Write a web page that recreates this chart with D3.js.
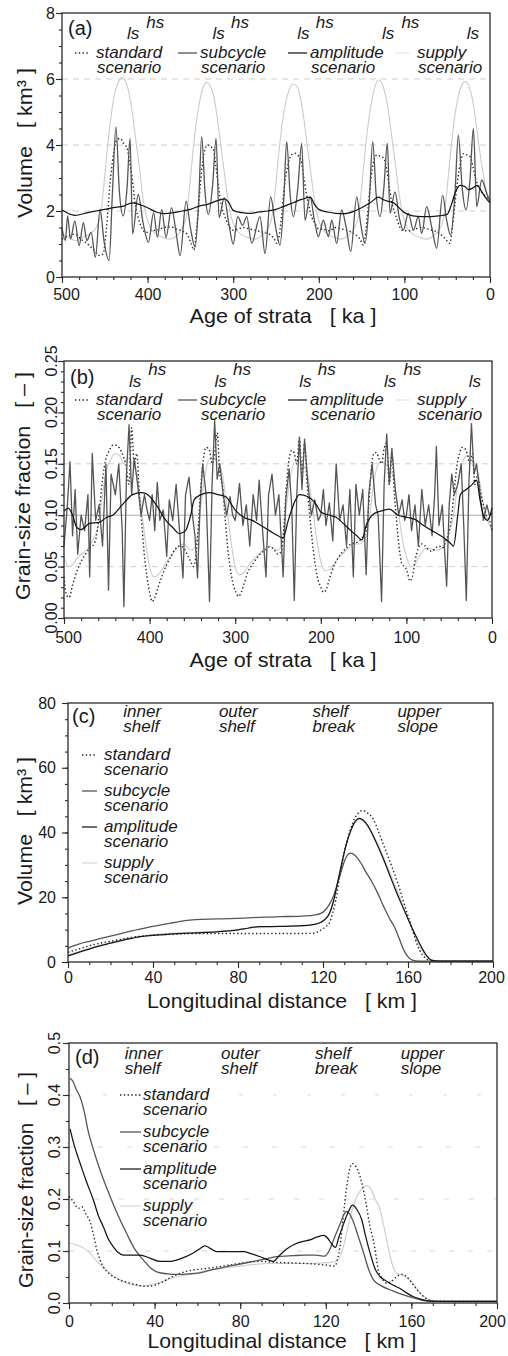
<!DOCTYPE html>
<html><head><meta charset="utf-8">
<script src="https://cdn.jsdelivr.net/npm/d3@7"></script>
<style>
body{margin:0;background:#fff;}
svg text{font-family:"Liberation Sans",Arial,Helvetica,sans-serif;fill:#1a1a1a;white-space:pre;}
</style></head><body>
<svg id="chart" width="508" height="1356" xmlns="http://www.w3.org/2000/svg"></svg>
<script>
// ---------------- DATA ----------------
const scenarioNames = ["standard","subcycle","amplitude","supply"];
const zoneTop = ["inner","outer","shelf","upper"];
const zoneBottom = ["shelf","shelf","break","slope"];
const zoneKm = [26,71,115,155];
const lsAges = [417,317,218,119,20];
const hsAges = [391,292,193,93];

// Panel (a): volume [km3] vs age [ka]
const ageTicksA = [500,400,300,200,100,0];
const volTicksA = [0,2,4,6,8];
const ageA_standard = [500,492,485,478,470,462,456,452,448,444,440,436,432,428,424,421,418,415,411,407,402,396,389,381,373,366,360,354,349,346,343,340,337,334,330,326,323,320,317,314,310,306,301,295,288,280,272,265,258,252,249,246,243,240,236,232,228,224,221,218,215,212,208,204,200,195,188,180,172,165,158,152,148,145,142,139,136,132,128,124,121,118,115,112,108,104,100,95,88,80,72,65,58,52,47,44,41,38,35,31,27,23,20,17,13,9,5,0];
const volA_standard = [1.15,1.25,1.3,1.15,1.0,0.8,0.65,0.7,1.5,2.8,3.7,4.15,4.2,4.05,3.9,3.5,3.0,2.3,1.8,1.5,1.35,1.4,1.42,1.5,1.52,1.45,1.4,1.3,1.0,0.82,1.4,2.3,3.2,3.75,4.0,3.95,3.85,3.3,2.7,2.2,1.85,1.6,1.42,1.45,1.5,1.45,1.4,1.35,1.3,1.15,1.02,1.3,2.0,2.8,3.4,3.7,3.75,3.68,3.55,3.1,2.6,2.2,1.8,1.6,1.45,1.45,1.4,1.5,1.45,1.4,1.3,1.15,0.97,1.4,2.2,3.0,3.5,3.7,3.65,3.6,3.3,2.8,2.3,2.0,1.7,1.45,1.4,1.4,1.45,1.5,1.45,1.4,1.3,1.15,1.02,1.5,2.2,2.9,3.4,3.74,3.7,3.64,3.35,3.0,2.7,2.55,2.45,2.35];
const ageA_subcycle = [500,496,493.5,490,485,480,475,471,466,461,455.5,451,445,441,437,433,428.5,424,420.5,417.5,411,405,399,393,388.5,383.5,378.5,372,367,362,355,350,344.5,340.5,336.8,333,329,324,320,316.5,310.5,305,300,294.7,289,284.2,278.4,268.7,262.8,256.2,251,245.3,241,237.5,233.5,229.7,224.5,220,216.1,210.2,205,200.5,194.7,188.8,184.9,179.1,173.3,168,162.7,155.7,151,146,141,137,133,128.5,124,119.9,116.8,111,106,101.2,95.4,89.5,83.7,79.8,74,68,62.3,55.3,50.5,46,41,37,32.5,28,23.5,19.4,15.5,9.7,3.9,0];
const volA_subcycle = [1.5,1.1,1.85,1.15,1.7,0.95,1.65,1.1,1.35,0.6,2.05,1.1,0.5,2.6,4.55,2.6,1.85,2.7,4.2,1.3,2.5,1.6,1.05,1.95,1.2,2.05,1.2,2.1,1.4,0.65,2.3,1.5,0.9,2.2,4.25,2.6,1.9,2.8,4.2,1.8,2.4,1.6,1.0,1.83,1.57,1.83,1.02,1.83,0.71,2.43,1.6,0.97,2.3,4.1,2.5,1.83,2.7,4.05,1.72,2.43,1.7,1.22,1.72,1.22,1.72,1.02,2.03,1.5,0.77,2.43,1.6,1.02,2.3,4.1,2.5,1.83,2.7,4.05,1.93,2.58,1.8,1.42,1.93,1.42,1.83,1.32,2.13,1.5,0.87,2.48,1.7,1.27,2.5,4.3,2.7,2.03,2.9,4.5,2.13,2.94,2.53,2.28];
const ageA_amplitude = [500,490,485,470,460,450,440,428,418,410,400,390,380,370,360,350,340,330,320,310,305,300,290,280,270,260,250,240,230,220,210,205,200,190,180,170,160,150,140,130,125,120,113,100,90,80,70,60,50,45,40,35,30,25,20,15,10,5,0];
const volA_amplitude = [2.03,1.9,1.87,1.95,2.0,2.05,2.1,2.15,2.25,2.2,2.1,1.97,1.92,1.95,2.0,2.05,2.15,2.2,2.3,2.37,2.25,2.02,1.95,1.93,1.97,2.0,2.05,2.15,2.25,2.35,2.42,2.2,2.05,1.97,1.93,1.92,1.98,2.1,2.25,2.42,2.35,2.3,2.25,1.95,1.85,1.83,1.83,1.85,1.9,2.2,2.6,2.78,2.75,2.65,2.7,2.78,2.6,2.4,2.25];
const ageA_supply = [500,492,484,476,468,460,455,451,447,443,439,435,430,426,422,418,414,410,406,402,397,390,382,374,366,360,355,351,347,343,339,335,331,327,323,319,315,311,307,303,298,291,283,275,267,260,255,251,247,243,239,235,230,226,222,218,214,210,206,202,197,190,182,174,166,159,154,150,146,142,138,134,130,126,122,118,114,110,106,102,97,90,82,74,66,59,54,50,46,42,38,34,29,25,21,17,13,9,5,0];
const volA_supply = [1.3,1.2,1.1,1.2,1.3,1.5,1.9,2.8,3.9,4.8,5.5,5.85,6.05,5.95,5.6,5.0,4.2,3.4,2.5,1.9,1.5,1.3,1.2,1.15,1.25,1.45,1.8,2.7,3.8,4.7,5.35,5.75,5.9,5.8,5.5,4.9,4.1,3.3,2.5,1.9,1.5,1.3,1.2,1.15,1.25,1.45,1.8,2.6,3.7,4.6,5.25,5.65,5.85,5.8,5.5,4.9,4.1,3.3,2.5,1.9,1.5,1.3,1.2,1.15,1.25,1.45,1.8,2.7,3.8,4.7,5.35,5.8,5.97,5.85,5.5,4.9,4.1,3.3,2.5,1.9,1.5,1.3,1.2,1.15,1.25,1.45,1.8,2.7,3.8,4.7,5.35,5.75,5.92,5.8,5.45,4.8,4.0,3.3,2.7,2.3];

// Panel (b): grain-size fraction [-] vs age [ka]
const ageTicksB = [500,400,300,200,100,0];
const gsfTicksB = [0,0.05,0.10,0.15,0.20,0.25];
const ageB_standard = [500,497,494,490,485,480,475,470,465,462,458,455,451,447,443,439,435,431,428,424,421,418,415,412,409,406,403,400,397,394,390,385,380,375,370,365,360,355,352,349,346,343,340,337,334,330,327,324,321,318,315,312,309,306,303,299,296,293,289,285,280,275,270,265,260,255,250,246,243,240,237,234,231,228,225,222,219,216,213,210,207,204,200,197,194,190,185,180,175,170,165,160,155,150,147,144,141,138,135,132,129,126,123,120,117,114,111,108,105,102,99,96,93,90,86,82,78,74,70,66,62,58,54,50,47,44,41,38,35,32,29,26,23,20,17,14,10,7,3,0];
const gsfB_standard = [0.040,0.022,0.020,0.032,0.045,0.055,0.062,0.068,0.072,0.080,0.110,0.135,0.155,0.163,0.168,0.168,0.165,0.158,0.150,0.130,0.185,0.150,0.160,0.120,0.090,0.060,0.040,0.025,0.016,0.020,0.030,0.042,0.052,0.060,0.067,0.070,0.068,0.060,0.055,0.050,0.060,0.090,0.130,0.155,0.166,0.163,0.150,0.160,0.180,0.140,0.130,0.100,0.070,0.050,0.035,0.025,0.021,0.025,0.035,0.045,0.052,0.058,0.063,0.066,0.069,0.067,0.062,0.065,0.090,0.130,0.155,0.163,0.160,0.150,0.175,0.140,0.170,0.130,0.100,0.075,0.055,0.040,0.030,0.025,0.027,0.038,0.050,0.058,0.064,0.068,0.072,0.073,0.075,0.080,0.085,0.110,0.145,0.160,0.161,0.155,0.150,0.165,0.170,0.130,0.160,0.120,0.090,0.065,0.052,0.050,0.045,0.036,0.040,0.055,0.068,0.072,0.070,0.066,0.065,0.068,0.070,0.068,0.075,0.085,0.100,0.125,0.148,0.160,0.166,0.165,0.160,0.150,0.160,0.130,0.140,0.125,0.110,0.100,0.095,0.085];
const ageB_subcycle = [500,496,493,490,487,484,480,476,472,470,467,463,459,455,451,448,445,440,436,432,430,427,424,421,418,414,410,406,403,400,397,394,391,388,384,380,377,373,369,365,361,358,354,350,347,344,341,338,334,330,327,324,321,318,314,310,306,303,300,297,295,291,287,283,279,275,272,268,264,261,257,253,249,244,241,237,234,231,228,225,222,219,215,211,207,203,200,197,194,190,186,182,178,174,170,166,162,159,155,151,147,144,140,136,133,129,126,123,120,117,113,109,105,102,100,97,94,90,86,82,78,74,70,67,65,62,58,55,53,50,47,44,40,36,33,30,27,24,21,18,14,10,6,3,0];
const gsfB_subcycle = [0.070,0.110,0.152,0.080,0.125,0.062,0.100,0.085,0.120,0.040,0.160,0.095,0.110,0.070,0.150,0.027,0.140,0.120,0.150,0.085,0.011,0.140,0.188,0.120,0.155,0.130,0.100,0.120,0.105,0.095,0.120,0.085,0.132,0.095,0.105,0.060,0.115,0.095,0.130,0.085,0.039,0.120,0.137,0.100,0.080,0.039,0.110,0.150,0.120,0.016,0.130,0.192,0.135,0.150,0.120,0.100,0.118,0.100,0.095,0.115,0.131,0.090,0.110,0.070,0.120,0.095,0.134,0.085,0.040,0.120,0.140,0.100,0.120,0.040,0.115,0.145,0.110,0.017,0.120,0.176,0.125,0.174,0.130,0.100,0.115,0.095,0.100,0.125,0.090,0.112,0.075,0.150,0.095,0.110,0.070,0.125,0.040,0.130,0.100,0.125,0.042,0.120,0.150,0.110,0.100,0.016,0.130,0.179,0.130,0.165,0.125,0.100,0.115,0.095,0.100,0.120,0.085,0.110,0.070,0.125,0.090,0.110,0.080,0.120,0.167,0.090,0.110,0.060,0.031,0.110,0.140,0.120,0.130,0.150,0.090,0.017,0.130,0.189,0.140,0.150,0.120,0.095,0.110,0.100,0.102];
const ageB_amplitude = [500,495,490,485,480,470,459,450,443,432,420,410,404,393,381,373,365,358,352,348,340,330,320,311,300,290,280,270,260,250,244,238,232,225,215,205,200,190,182,175,165,158,152,147,140,130,120,110,100,90,80,70,60,50,45,40,37,30,23,18,14,10,5,0];
const gsfB_amplitude = [0.104,0.107,0.100,0.088,0.086,0.092,0.093,0.098,0.100,0.110,0.120,0.122,0.121,0.111,0.095,0.088,0.082,0.085,0.100,0.115,0.120,0.122,0.120,0.118,0.105,0.098,0.095,0.090,0.085,0.080,0.078,0.095,0.110,0.120,0.118,0.110,0.103,0.100,0.098,0.093,0.085,0.080,0.076,0.090,0.100,0.104,0.106,0.100,0.098,0.096,0.090,0.085,0.080,0.074,0.070,0.100,0.120,0.125,0.130,0.134,0.115,0.100,0.095,0.107];
const ageB_supply = [500,495,490,485,480,475,470,465,460,455,450,445,440,435,430,425,420,415,410,405,400,395,390,385,380,375,370,365,360,355,350,345,340,335,330,325,320,315,310,305,300,295,290,285,280,275,270,265,260,255,250,245,240,235,230,225,220,215,210,205,200,195,190,185,180,175,170,165,160,155,150,145,140,135,130,125,120,115,110,105,100,95,90,85,80,75,70,65,60,55,50,45,40,35,30,25,20,15,10,5,0];
const gsfB_supply = [0.060,0.050,0.052,0.058,0.062,0.065,0.070,0.078,0.090,0.120,0.145,0.155,0.160,0.158,0.150,0.155,0.150,0.140,0.110,0.075,0.050,0.040,0.042,0.048,0.055,0.060,0.066,0.070,0.072,0.068,0.066,0.075,0.110,0.140,0.155,0.155,0.150,0.140,0.110,0.075,0.050,0.042,0.044,0.050,0.056,0.060,0.064,0.068,0.070,0.068,0.066,0.075,0.110,0.140,0.152,0.152,0.148,0.138,0.110,0.078,0.055,0.046,0.047,0.052,0.058,0.062,0.066,0.070,0.072,0.072,0.075,0.085,0.120,0.145,0.152,0.150,0.146,0.136,0.108,0.078,0.060,0.050,0.052,0.060,0.066,0.068,0.067,0.066,0.067,0.072,0.082,0.100,0.130,0.150,0.158,0.155,0.150,0.135,0.110,0.095,0.085];

// Panel (c): volume [km3] vs longitudinal distance [km]
const kmTicks = [0,40,80,120,160,200];
const volTicksC = [0,20,40,60,80];
const kmC_standard = [0,5,10,15,20,25,30,35,40,50,60,70,80,90,100,110,116,118,121,123,124.5,126,128,130,132,134,136,138.5,141,143.5,146,148,150,152.5,154.7,156.7,158.6,161,163.3,165.5,168,170,173,180,190,200];
const volC_standard = [3.0,4.0,5.0,5.8,6.4,7.0,7.6,8.0,8.3,8.6,8.8,8.8,8.8,8.8,8.8,8.8,8.9,9.5,10.8,12,15,19,27,34,39,43,45.5,46.8,46,44.3,40.5,37,33.6,29.3,25.3,21.3,17.1,12.3,7.3,3.6,1.3,0.5,0.3,0.2,0.2,0.2];
const kmC_subcycle = [0,5,10,15,20,25,30,35,40,45,50,55,60,70,80,90,100,110,116,119,121,123,125,127,129,131,133,135,137.9,140,143,145.8,149,151.5,153.6,156,158,160,162,165,180,200];
const volC_subcycle = [4.3,5.5,6.4,7.2,8.0,8.8,9.6,10.3,11.0,11.6,12.2,12.8,13.1,13.3,13.5,13.8,14.0,14.2,14.5,15.0,16.0,17.8,20.5,24.5,29,32.5,33.6,33,30.5,28,24.8,21.2,16.5,13.2,10.9,7,3.7,1.6,0.6,0.3,0.3,0.3];
const kmC_amplitude = [0,5,10,15,20,25,30,35,40,50,60,70,80,85,90,100,110,116,119,121,123,125,127,129,131,133,135,137,139,141,143,145,148,151,154,157,160,163,166,168.5,171,174,180,190,200];
const volC_amplitude = [1.9,3.0,4.0,5.0,5.8,6.6,7.3,7.9,8.2,8.7,9.0,9.3,9.9,10.5,10.9,11.0,11.2,11.6,12.3,13.2,15,19,25,31,36.5,40.5,43.3,44.4,43.8,42.2,39.8,37,32.5,27.5,22.5,17.8,13.3,9,5,2.2,0.6,0.3,0.3,0.3,0.3];
const kmC_supply = [0,10,20,30,40,50,60,70,80,90,100,110,116,120,123,125,127,129,131,133,135,137,140,145,150,155,160,165,170,175,200];
const volC_supply = [2.2,4.2,6.0,7.5,8.4,8.9,9.2,9.5,10.0,10.8,11.0,11.1,11.5,12.6,14.8,18.5,24.5,30.5,36,40,43,44,42.8,37.5,30,22,13.5,5.5,0.8,0.3,0.3];

// Panel (d): grain-size fraction [-] vs longitudinal distance [km]
const gsfTicksD = [0,0.1,0.2,0.3,0.4,0.5];
const kmD_standard = [0,2,4.4,6,8,9.8,11.5,13,14.5,16.1,19,22.3,27,31.6,36.3,42.5,47,51.9,56,61.2,67,73.7,83.1,89.3,97.1,105,114.2,120,124.3,125.5,126.6,128,129.8,131,132.5,134,135.5,137,139.1,140.5,142.2,143.5,144.5,146.5,148.4,150,151.6,153.5,155.5,157.9,160,162.5,165,167.2,170,180,190,200];
const gsfD_standard = [0.205,0.195,0.182,0.185,0.17,0.157,0.13,0.102,0.083,0.069,0.056,0.047,0.04,0.035,0.032,0.038,0.048,0.057,0.062,0.065,0.068,0.072,0.078,0.08,0.078,0.077,0.075,0.073,0.071,0.085,0.107,0.16,0.224,0.255,0.268,0.263,0.25,0.228,0.185,0.15,0.121,0.09,0.064,0.046,0.038,0.04,0.045,0.052,0.055,0.05,0.04,0.026,0.015,0.008,0.004,0.003,0.003,0.003];
const kmD_subcycle = [0.5,2,3.5,5.1,7,9,11.4,15,19.2,23,26.9,30.5,34.7,38,41,46,50.3,56,61.2,67,73.7,80,86,92,97,104.8,110,115,119.5,121.5,124,126.5,129.6,131,133,135,137.7,140,142.2,146,151.6,156,160.9,165,170,200];
const gsfD_subcycle = [0.432,0.425,0.41,0.397,0.37,0.33,0.295,0.25,0.205,0.168,0.134,0.105,0.083,0.068,0.06,0.056,0.055,0.056,0.058,0.064,0.07,0.075,0.08,0.085,0.089,0.091,0.092,0.092,0.09,0.1,0.125,0.15,0.176,0.172,0.155,0.13,0.096,0.065,0.045,0.033,0.023,0.016,0.01,0.005,0.003,0.003];
const kmD_amplitude = [0.5,2,3.6,5.5,8,11.4,14,16,18.5,20.7,23,25.4,29,33.2,38,42.5,47,52,58.1,61,63.5,66,69,75,81.5,85,89.3,93,95.5,98,101.7,105,108,113,116,118.9,121,122.5,124.5,126,128.2,130.5,132.5,134.5,136.8,138.5,140.7,143,145.3,148.4,151.6,154.7,157.9,161,164,168,175,200];
const gsfD_amplitude = [0.335,0.31,0.288,0.265,0.235,0.198,0.165,0.147,0.122,0.108,0.097,0.092,0.092,0.092,0.086,0.08,0.08,0.085,0.096,0.104,0.11,0.105,0.099,0.099,0.099,0.095,0.089,0.083,0.08,0.09,0.104,0.112,0.117,0.122,0.127,0.13,0.124,0.115,0.107,0.125,0.151,0.175,0.188,0.18,0.16,0.13,0.096,0.066,0.051,0.042,0.034,0.028,0.019,0.012,0.008,0.004,0.003,0.003];
const kmD_supply = [0.5,3,6.7,10,13,16,19.2,23,27,31,34.7,38.5,42.5,46,50,56,62,70,78,86,94,102,110,118,123,126,128,130,132,134,136.5,139,141,143,145,147,149,151,153,156,159,162,165,168,172,200];
const gsfD_supply = [0.115,0.112,0.106,0.095,0.08,0.068,0.057,0.046,0.038,0.034,0.033,0.036,0.04,0.045,0.05,0.055,0.06,0.066,0.07,0.074,0.076,0.076,0.076,0.077,0.078,0.085,0.105,0.14,0.175,0.2,0.218,0.226,0.22,0.2,0.185,0.15,0.11,0.075,0.058,0.053,0.045,0.03,0.016,0.007,0.003,0.003];

// ---------------- STYLE ----------------
const STYLE = {
  standard:  {stroke:"#262626", width:1.4, dash:"1.4,2.4"},
  subcycle:  {stroke:"#555555", width:1.3, dash:null},
  amplitude: {stroke:"#151515", width:1.25, dash:null},
  supply:    {stroke:"#cdcdcd", width:1.15, dash:null}
};
const AX = "#2a2a2a";
const svg = d3.select("#chart");

function drawPanel(o){
  const g = svg.append("g");
  const x = d3.scaleLinear().domain(o.xDomain).range([o.left, o.right]);
  const y = d3.scaleLinear().domain(o.yDomain).range([o.bottom, o.top]);

  (o.grid||[]).forEach(gl=>{
    g.append("line").attr("x1",o.left).attr("x2",o.right).attr("y1",y(gl.v)).attr("y2",y(gl.v))
      .attr("stroke",gl.c).attr("stroke-width",1).attr("stroke-dasharray",gl.dash||null);
  });

  o.series.forEach(s=>{
    const st = STYLE[s.name];
    const ln = d3.line().x((d,i)=>x(s.xs[i])).y((d,i)=>y(s.ys[i])).curve(s.curve||d3.curveMonotoneX);
    g.append("path").attr("d", ln(s.xs)).attr("fill","none")
      .attr("stroke",st.stroke).attr("stroke-width",st.width)
      .attr("stroke-dasharray",st.dash).attr("stroke-linejoin","round");
  });

  g.append("rect").attr("x",o.left).attr("y",o.top).attr("width",o.right-o.left).attr("height",o.bottom-o.top)
    .attr("fill","none").attr("stroke",AX).attr("stroke-width",1.3);

  const xMinor = d3.axisBottom(x).tickValues(d3.range(o.xDomain[0], o.xDomain[1] + (o.xDomain[1]>o.xDomain[0]?0.001:-0.001), o.xMinorStep)).tickSize(3).tickFormat("");
  const gxm = g.append("g").attr("transform",`translate(0,${o.bottom})`).call(xMinor);
  const gx = g.append("g").attr("transform",`translate(0,${o.bottom})`).call(d3.axisBottom(x).tickValues(o.xTicks).tickSize(6).tickFormat(d3.format("d")));
  [gxm,gx].forEach(a=>{a.select(".domain").remove(); a.selectAll("line").attr("stroke",AX).attr("stroke-width",1.1);});
  const nX = o.xTicks.length;
  gx.selectAll("text").attr("y", o.xLabelBase - o.bottom).attr("dy",0)
    .attr("font-size",16).attr("fill","#1a1a1a").attr("font-family",null)
    .attr("dx",(d,i)=> i===0 ? (o.firstXShift||0) : (i===nX-1 ? (o.lastXShift||0) : 0));

  const yStepCount = Math.round((o.yDomain[1]-o.yDomain[0])/o.yMinorStep);
  const yMinorVals = d3.range(0, yStepCount+1).map(i=>o.yDomain[0]+i*o.yMinorStep);
  const gym = g.append("g").attr("transform",`translate(${o.left},0)`).call(d3.axisLeft(y).tickValues(yMinorVals).tickSize(3).tickFormat(""));
  const gy = g.append("g").attr("transform",`translate(${o.left},0)`).call(d3.axisLeft(y).tickValues(o.yTicks).tickSize(6).tickFormat(o.rotYLabels? "" : o.yFmt));
  [gym,gy].forEach(a=>{a.select(".domain").remove(); a.selectAll("line").attr("stroke",AX).attr("stroke-width",1.1);});
  if(!o.rotYLabels){
    gy.selectAll("text").attr("x", -(o.left - o.yLabelRight)).attr("font-size",16).attr("fill","#1a1a1a").attr("font-family",null);
  } else {
    g.selectAll(null).data(o.yTicks).join("text")
      .attr("transform",d=>`translate(${o.yLabelBase},${y(d)}) rotate(-90)`)
      .attr("text-anchor","middle").attr("font-size",16).text(o.yFmt);
  }

  g.append("text").attr("x",o.xTitle.cx).attr("y",o.xTitle.base).attr("text-anchor","middle")
    .attr("font-size",21).attr("textLength",o.xTitle.len).attr("lengthAdjust","spacingAndGlyphs").text(o.xTitle.text);
  g.append("text").attr("transform",`translate(${o.yTitle.base},${o.yTitle.cy}) rotate(-90)`).attr("text-anchor","middle")
    .attr("font-size",21).attr("textLength",o.yTitle.len).attr("lengthAdjust","spacingAndGlyphs").text(o.yTitle.text);

  g.append("text").attr("x",o.tag.x).attr("y",o.tag.y).attr("font-size",20).text(o.tag.t);
  return {g,x,y};
}

// two-line italic label as one text element
function italic2(g, x, y, t1, t2, x2){
  const t = g.append("text").attr("x",x).attr("y",y).attr("font-size",17).attr("font-style","italic");
  t.append("tspan").attr("x",x).attr("y",y).text(t1);
  t.append("tspan").attr("x",x2==null?x:x2).attr("y",y+15).text(t2);
  return t;
}
function sample(g, name, x1, x2, yy, op){
  const st = STYLE[name];
  g.append("line").attr("x1",x1).attr("x2",x2).attr("y1",yy).attr("y2",yy)
    .attr("stroke",st.stroke).attr("stroke-width",st.width).attr("stroke-dasharray",st.dash)
    .attr("opacity",op==null?1:op);
}

const A = drawPanel({
  left:62,right:490,top:13,bottom:277,
  xDomain:[500,0], yDomain:[0,8], xTicks:ageTicksA, yTicks:volTicksA,
  xMinorStep:-20, yMinorStep:0.5, xLabelBase:300, yLabelRight:55, firstXShift:4,
  yFmt:d3.format("d"),
  grid:[{v:2,c:"#d0d0d0",dash:"6,5"},{v:4,c:"#d0d0d0",dash:"6,5"},{v:6,c:"#d0d0d0",dash:"6,5"}],
  series:[
    {name:"supply",xs:ageA_supply,ys:volA_supply},
    {name:"standard",xs:ageA_standard,ys:volA_standard},
    {name:"subcycle",xs:ageA_subcycle,ys:volA_subcycle},
    {name:"amplitude",xs:ageA_amplitude,ys:volA_amplitude}
  ],
  xTitle:{text:"Age of strata   [ ka ]",cx:283,base:323,len:187},
  yTitle:{text:"Volume   [ km³ ]",cy:143,base:32,len:150},
  tag:{x:68,y:35,t:"(a)"}
});

const B = drawPanel({
  left:64,right:492,top:361,bottom:618,
  xDomain:[500,0], yDomain:[0,0.25], xTicks:ageTicksB, yTicks:gsfTicksB,
  xMinorStep:-20, yMinorStep:0.01, xLabelBase:643, rotYLabels:true, yLabelBase:57, firstXShift:4,
  yFmt:d3.format(".2f"),
  grid:[{v:0.05,c:"#d0d0d0",dash:"6,5"},{v:0.10,c:"#ababab",dash:null},{v:0.15,c:"#d0d0d0",dash:"6,5"}],
  series:[
    {name:"supply",xs:ageB_supply,ys:gsfB_supply},
    {name:"standard",xs:ageB_standard,ys:gsfB_standard},
    {name:"subcycle",xs:ageB_subcycle,ys:gsfB_subcycle,curve:d3.curveLinear},
    {name:"amplitude",xs:ageB_amplitude,ys:gsfB_amplitude}
  ],
  xTitle:{text:"Age of strata   [ ka ]",cx:283,base:667,len:187},
  yTitle:{text:"Grain-size fraction   [ – ]",cy:486,base:30,len:228},
  tag:{x:70,y:384,t:"(b)"}
});

const C = drawPanel({
  left:68,right:493,top:703,bottom:962,
  xDomain:[0,200], yDomain:[0,80], xTicks:kmTicks, yTicks:volTicksC,
  xMinorStep:10, yMinorStep:5, xLabelBase:983, yLabelRight:56, lastXShift:-2,
  yFmt:d3.format("d"),
  grid:[],
  series:[
    {name:"supply",xs:kmC_supply,ys:volC_supply},
    {name:"standard",xs:kmC_standard,ys:volC_standard},
    {name:"subcycle",xs:kmC_subcycle,ys:volC_subcycle},
    {name:"amplitude",xs:kmC_amplitude,ys:volC_amplitude}
  ],
  xTitle:{text:"Longitudinal distance   [ km ]",cx:282,base:1008,len:270},
  yTitle:{text:"Volume   [ km³ ]",cy:831,base:32,len:148},
  tag:{x:72,y:723,t:"(c)"}
});

const D = drawPanel({
  left:69,right:497,top:1043,bottom:1303,
  xDomain:[0,200], yDomain:[0,0.5], xTicks:kmTicks, yTicks:gsfTicksD,
  xMinorStep:10, yMinorStep:0.05, xLabelBase:1327, rotYLabels:true, yLabelBase:60, lastXShift:-5,
  yFmt:d3.format(".1f"),
  grid:[{v:0.1,c:"#d6d6d6",dash:"5,14"},{v:0.2,c:"#dadada",dash:"5,20"},{v:0.3,c:"#dadada",dash:"5,24"},{v:0.4,c:"#dedede",dash:"4,30"}],
  series:[
    {name:"supply",xs:kmD_supply,ys:gsfD_supply},
    {name:"standard",xs:kmD_standard,ys:gsfD_standard},
    {name:"subcycle",xs:kmD_subcycle,ys:gsfD_subcycle},
    {name:"amplitude",xs:kmD_amplitude,ys:gsfD_amplitude}
  ],
  xTitle:{text:"Longitudinal distance   [ km ]",cx:282,base:1348,len:269},
  yTitle:{text:"Grain-size fraction   [ – ]",cy:1180,base:33,len:216},
  tag:{x:75,y:1064,t:"(d)"}
});

[[A,39,28],[B,387,375]].forEach(([P,lsY,hsY])=>{
  lsAges.forEach(a=>P.g.append("text").attr("x",P.x(a)).attr("y",lsY).attr("text-anchor","middle")
    .attr("font-size",17).attr("font-style","italic").text("ls"));
  hsAges.forEach(a=>P.g.append("text").attr("x",P.x(a)).attr("y",hsY).attr("text-anchor","middle")
    .attr("font-size",17).attr("font-style","italic").text("hs"));
});

const legTextX = [96,200,310,417];
const legSampleX = [[75,90],[178,197],[288,307],[395,410]];
[[A,58,53],[B,405,400]].forEach(([P,l1,sy])=>{
  scenarioNames.forEach((n,i)=>{
    sample(P.g, n, legSampleX[i][0], legSampleX[i][1], sy, n==="supply"?0.5:1);
    italic2(P.g, legTextX[i], l1, n, "scenario", legTextX[i]+1);
  });
});

[[C,717],[D,1059]].forEach(([P,b1])=>{
  zoneKm.forEach((k,i)=>{
    italic2(P.g, P.x(k), b1, zoneTop[i], zoneBottom[i]);
  });
});

[[C,82,97,104,760,36],[D,120,141,143,1100,37]].forEach(([P,s1,s2,tx,b0,step])=>{
  scenarioNames.forEach((n,i)=>{
    const b = b0 + i*step;
    sample(P.g, n, s1, s2, b-5, n==="supply"?0.8:1);
    italic2(P.g, tx, b, n, "scenario");
  });
});
</script>
</body></html>
